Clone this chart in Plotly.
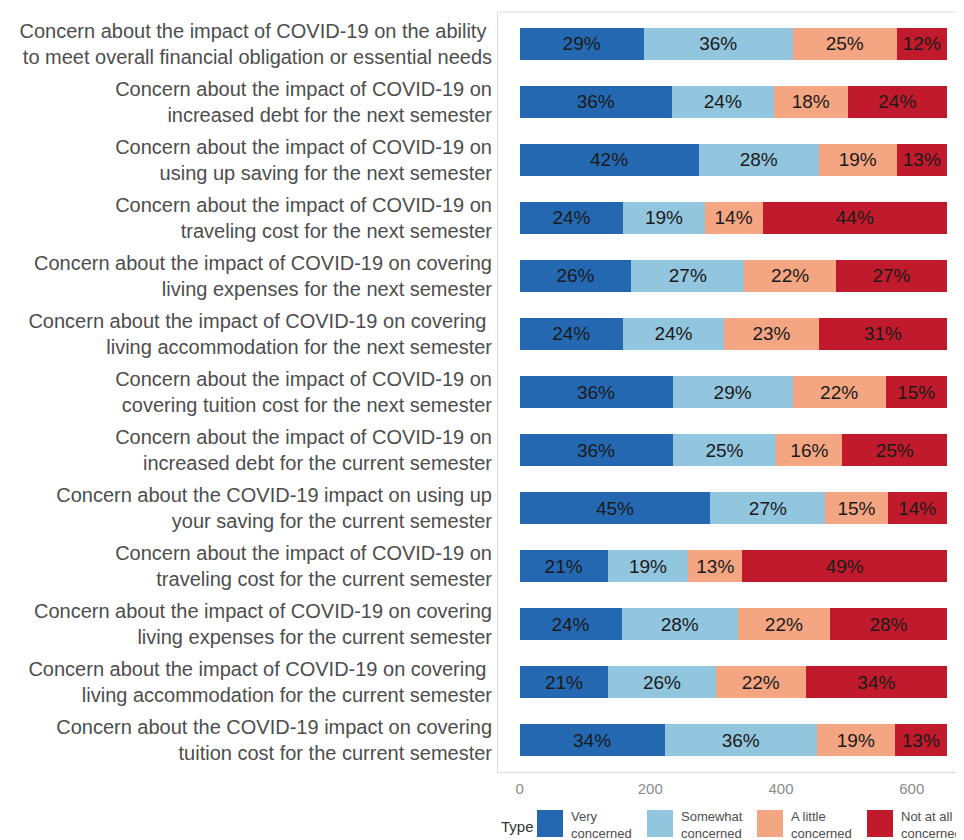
import plotly.graph_objects as go

NBSP = "\u00a0"
categories = [
    "Concern about the impact of COVID-19 on the ability" + NBSP + "<br>to meet overall financial obligation or essential needs",
    "Concern about the impact of COVID-19 on<br>increased debt for the next semester",
    "Concern about the impact of COVID-19 on<br>using up saving for the next semester",
    "Concern about the impact of COVID-19 on<br>traveling cost for the next semester",
    "Concern about the impact of COVID-19 on covering<br>living expenses for the next semester",
    "Concern about the impact of COVID-19 on covering" + NBSP + "<br>living accommodation for the next semester",
    "Concern about the impact of COVID-19 on<br>covering tuition cost for the next semester",
    "Concern about the impact of COVID-19 on<br>increased debt for the current semester",
    "Concern about the COVID-19 impact on using up<br>your saving for the current semester",
    "Concern about the impact of COVID-19 on<br>traveling cost for the current semester",
    "Concern about the impact of COVID-19 on covering<br>living expenses for the current semester",
    "Concern about the impact of COVID-19 on covering" + NBSP + "<br>living accommodation for the current semester",
    "Concern about the COVID-19 impact on covering<br>tuition cost for the current semester",
]

types = ["Very<br>concerned", "Somewhat<br>concerned", "A little<br>concerned", "Not at all<br>concerned"]

very_counts     = [190, 233, 274, 159, 171, 158, 234, 234, 292, 135, 156, 136, 222]
somewhat_counts = [228, 156, 184, 124, 173, 155, 184, 159, 176, 123, 178, 164, 233]
little_counts   = [159, 113, 119,  89, 140, 145, 142, 101,  95,  83, 141, 138, 119]
notatall_counts = [ 77, 152,  77, 282, 170, 196,  94, 160,  91, 313, 179, 216,  80]

very_pct     = ["29%", "36%", "42%", "24%", "26%", "24%", "36%", "36%", "45%", "21%", "24%", "21%", "34%"]
somewhat_pct = ["36%", "24%", "28%", "19%", "27%", "24%", "29%", "25%", "27%", "19%", "28%", "26%", "36%"]
little_pct   = ["25%", "18%", "19%", "14%", "22%", "23%", "22%", "16%", "15%", "13%", "22%", "22%", "19%"]
notatall_pct = ["12%", "24%", "13%", "44%", "27%", "31%", "15%", "25%", "14%", "49%", "28%", "34%", "13%"]

x_ticks = [0, 200, 400, 600]

colors = ["#2468B2", "#92C5DE", "#F4A582", "#C01A2C"]
series = [
    (very_counts, very_pct),
    (somewhat_counts, somewhat_pct),
    (little_counts, little_pct),
    (notatall_counts, notatall_pct),
]

FONT = "Liberation Sans, Arial, Helvetica, sans-serif"

W, H = 964, 840
ML, MR, MT, MB = 490, 8, 4, 76
PW, PH = W - ML - MR, H - MT - MB
OFF = 8  # page body margin


def fx(sx):
    return (sx - OFF - ML) / PW


def fy(sy):
    return 1 - (sy - OFF - MT) / PH


fig = go.Figure()
for (vals, pcts), name, col in zip(series, types, colors):
    fig.add_trace(go.Bar(
        y=categories, x=vals, name=name, orientation="h",
        marker=dict(color=col, line=dict(width=0)),
        text=pcts, textposition="inside", insidetextanchor="middle",
        textangle=0,
        textfont=dict(size=19, color="#1a1a1a", family=FONT),
        width=0.55, showlegend=False,
    ))

# manual legend (keys + labels)
shapes = [dict(type="line", xref="paper", yref="paper", x0=0, x1=1, y0=1, y1=1,
               line=dict(color="#dcdcdc", width=1))]
annotations = [dict(text="Type", xref="paper", yref="paper", x=fx(499), y=fy(826),
                    xanchor="left", yanchor="middle", showarrow=False,
                    font=dict(size=15, color="#333333", family=FONT))]
key_left = [537, 647, 757, 867]
for kx, name, col in zip(key_left, types, colors):
    shapes.append(dict(type="rect", xref="paper", yref="paper",
                       x0=fx(kx), x1=fx(kx + 26), y0=fy(810), y1=fy(837),
                       fillcolor=col, line=dict(width=0)))
    annotations.append(dict(text=name, xref="paper", yref="paper",
                            x=fx(kx + 32), y=fy(825), xanchor="left", yanchor="middle",
                            align="left", showarrow=False,
                            font=dict(size=13, color="#4d4d4d", family=FONT)))

fig.update_layout(
    barmode="stack",
    width=W, height=H,
    margin=dict(l=ML, r=MR, t=MT, b=MB),
    paper_bgcolor="white", plot_bgcolor="white",
    font=dict(family=FONT),
    uniformtext=dict(minsize=19, mode="show"),
    showlegend=False,
    xaxis=dict(
        range=[-33, 680], tickvals=x_ticks, ticktext=[str(v) for v in x_ticks],
        showgrid=False, zeroline=False,
        showline=True, linecolor="#dcdcdc", linewidth=1,
        ticks="", tickfont=dict(size=15, color="#8a8a8a"),
        ticklabelstandoff=3,
    ),
    yaxis=dict(
        range=[12.55, -0.55], categoryorder="array", categoryarray=categories,
        showgrid=False, zeroline=False,
        showline=True, linecolor="#dcdcdc", linewidth=1,
        ticks="", tickfont=dict(size=20, color="#4d4d4d"),
        ticklabelstandoff=1,
    ),
    shapes=shapes,
    annotations=annotations,
)

fig.write_html("out.html")
